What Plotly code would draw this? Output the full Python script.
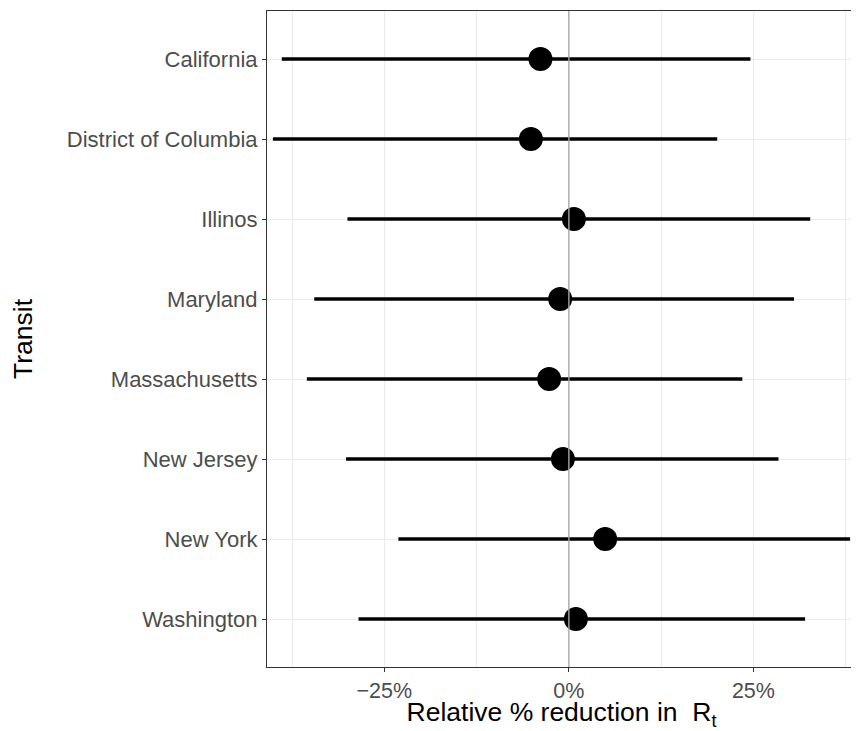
import plotly.graph_objects as go

# values, in percent
states = ["California", "District of Columbia", "Illinos", "Maryland",
          "Massachusetts", "New Jersey", "New York", "Washington"]
estimate = [-3.85, -5.15, 0.68, -1.18, -2.67, -0.81, 4.92, 0.95]
lower = [-38.9, -40.1, -30.0, -34.5, -35.5, -30.2, -23.1, -28.5]
upper = [24.6, 20.1, 32.7, 30.5, 23.5, 28.4, 38.1, 32.0]

tick_vals = [-25, 0, 25]
tick_text = ["\u221225%", "0%", "25%"]
minor_vals = [-37.5, -12.5, 12.5, 37.5]

grid_col = "#EBEBEB"
text_col = "#4D4D4D"
font = "Liberation Sans, Arial, sans-serif"

# interval segments, separated by None
seg_x, seg_y = [], []
for s, lo, hi in zip(states, lower, upper):
    seg_x += [lo, hi, None]
    seg_y += [s, s, None]

fig = go.Figure()
fig.add_trace(go.Scatter(x=seg_x, y=seg_y, mode="lines",
                         line=dict(color="black", width=3.4),
                         hoverinfo="skip", showlegend=False))
fig.add_trace(go.Scatter(x=estimate, y=states, mode="markers",
                         marker=dict(color="black", size=24, line=dict(width=0)),
                         showlegend=False))

fig.add_vline(x=0, line=dict(color="#A8A8A8", width=1.4), layer="above")

fig.update_xaxes(range=[-40.9, 38.9], tickvals=tick_vals, ticktext=tick_text,
                 showgrid=True, gridcolor=grid_col, gridwidth=1.1,
                 minor=dict(tickvals=minor_vals, showgrid=True, gridcolor=grid_col,
                            gridwidth=0.6, ticks=""),
                 zeroline=False, showline=True, mirror=True,
                 linecolor="#333333", linewidth=1.1,
                 ticks="outside", ticklen=4, tickcolor="#333333", tickwidth=1.1,
                 tickfont=dict(size=21.5, color=text_col, family=font),
                 title=dict(text="Relative % reduction in&nbsp;&nbsp;R<sub><span style='font-size:18px'>t</span></sub>",
                            font=dict(size=26.5, color="black", family=font),
                            standoff=8))
fig.update_yaxes(categoryorder="array", categoryarray=states, autorange=False,
                 range=[len(states) - 0.4, -0.6],
                 showgrid=True, gridcolor=grid_col, gridwidth=1.1,
                 zeroline=False, showline=True, mirror=True,
                 linecolor="#333333", linewidth=1.1,
                 ticks="outside", ticklen=4, tickcolor="#333333", tickwidth=1.1,
                 tickfont=dict(size=22, color=text_col, family=font),
                 title=dict(text="Transit", font=dict(size=26.5, color="black", family=font),
                            standoff=36))

# page body has an 8px margin, so the figure is made 8px smaller on each side
fig.update_layout(width=851, height=723, plot_bgcolor="white", paper_bgcolor="white",
                  margin=dict(l=259, r=3, t=2, b=62),
                  font=dict(family=font))

fig.write_html("out.html")
